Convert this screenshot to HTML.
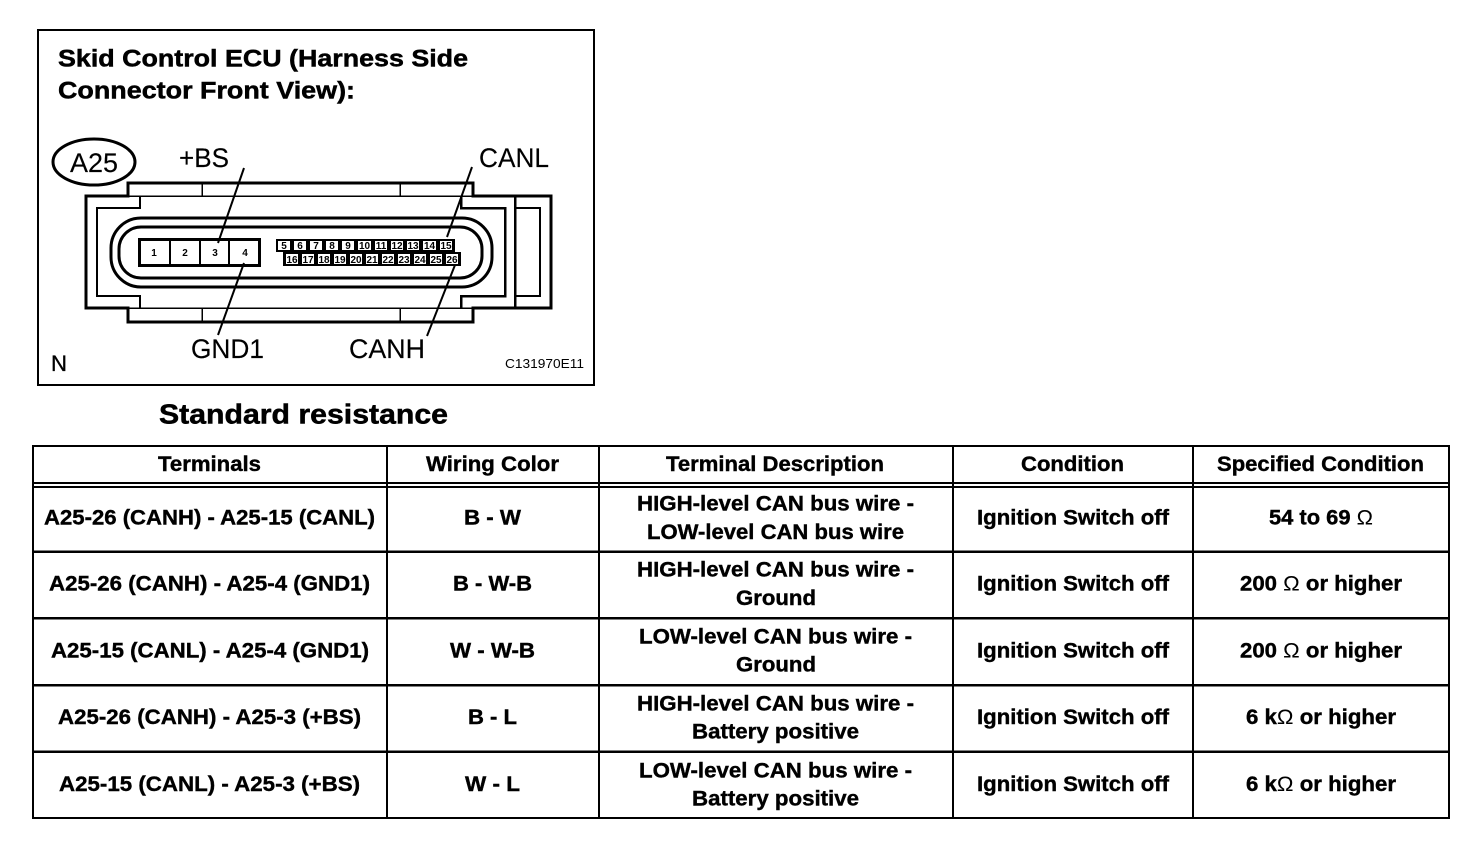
<!DOCTYPE html>
<html>
<head>
<meta charset="utf-8">
<style>
html,body{margin:0;padding:0;background:#fff;width:1472px;height:848px;overflow:hidden}
svg{display:block}
text{font-family:"Liberation Sans",sans-serif;fill:#000}
.b{font-weight:bold;font-size:21px;stroke:#000;stroke-width:.4px}
.h{font-weight:bold;font-size:24.5px;stroke:#000;stroke-width:.5px}
.l{font-size:27px;stroke:#000;stroke-width:.15px}
.n{font-weight:bold;font-size:10px;text-anchor:middle}
.o{font-weight:normal;stroke:none}
.c{shape-rendering:crispEdges}
</style>
</head>
<body>
<svg width="1472" height="848" viewBox="0 0 1472 848" xmlns="http://www.w3.org/2000/svg">
<rect width="1472" height="848" fill="#fff"/>
<!-- frame -->
<rect x="38" y="30" width="556" height="355" fill="none" stroke="#000" stroke-width="2" class="c"/>
<text class="h" x="58" y="66.500" textLength="410" lengthAdjust="spacingAndGlyphs">Skid Control ECU (Harness Side</text>
<text class="h" x="58" y="98.500" textLength="297" lengthAdjust="spacingAndGlyphs">Connector Front View):</text>
<!-- connector -->
<ellipse cx="94" cy="162" rx="41" ry="23" fill="#fff" stroke="#000" stroke-width="3"/>
<text class="l" x="70" y="172" textLength="48" lengthAdjust="spacingAndGlyphs">A25</text>
<text class="l" x="179" y="167" textLength="50" lengthAdjust="spacingAndGlyphs">+BS</text>
<text class="l" x="479" y="167" textLength="70" lengthAdjust="spacingAndGlyphs">CANL</text>
<text class="l" x="191" y="358" textLength="73" lengthAdjust="spacingAndGlyphs">GND1</text>
<text class="l" x="349" y="358" textLength="76" lengthAdjust="spacingAndGlyphs">CANH</text>
<text x="51" y="371" font-size="22" textLength="16" lengthAdjust="spacingAndGlyphs" stroke="#000" stroke-width=".3">N</text>
<text x="505" y="368" font-size="13" textLength="79" lengthAdjust="spacingAndGlyphs">C131970E11</text>

<g fill="none" stroke="#000" class="c">
<path d="M128 196V183H473V196H551V308H473V322H128V308H86V196Z" stroke-width="3"/>
<path d="M128 196H473M128 308H473M202 183V196M400 183V196M202 308V322M400 308V322" stroke-width="1.5"/>
<path d="M140 196V208H97V296H140V308" stroke-width="2"/>
<path d="M461 196V208H505V296H461V308" stroke-width="2.500"/>
<path d="M515 196V308" stroke-width="2.500"/>
<path d="M515 208H540V296H515" stroke-width="2"/>
</g>
<g fill="none" stroke="#000" stroke-width="3">
<rect x="111" y="218" width="381" height="69" rx="30" ry="30"/>
<rect x="119" y="227" width="363" height="51" rx="22" ry="22"/>
</g>
<!-- big terminals -->
<rect x="139.500" y="239.500" width="120" height="26" fill="#fff" stroke="#000" stroke-width="3" class="c"/>
<path d="M170 239V265M200 239V265M229 239V265" stroke="#000" stroke-width="2" class="c"/>
<g>
<text class="n" x="154" y="256">1</text>
<text class="n" x="185" y="256">2</text>
<text class="n" x="215" y="256">3</text>
<text class="n" x="245" y="256">4</text>
</g>
<!-- small terminals -->
<rect x="276" y="239" width="179" height="13" fill="#000" class="c"/>
<rect x="283" y="252" width="178" height="14" fill="#000" class="c"/>
<g fill="#fff" class="c">
<rect x="278" y="241" width="12" height="9"/><rect x="294" y="241" width="12" height="9"/><rect x="310" y="241" width="12" height="9"/><rect x="326" y="241" width="12" height="9"/><rect x="342" y="241" width="12" height="9"/><rect x="358" y="241" width="13" height="9"/><rect x="375" y="241" width="12" height="9"/><rect x="391" y="241" width="12" height="9"/><rect x="407" y="241" width="12" height="9"/><rect x="423" y="241" width="13" height="9"/><rect x="440" y="241" width="12" height="9"/>
<rect x="286" y="254" width="12" height="10"/><rect x="302" y="254" width="12" height="10"/><rect x="318" y="254" width="12" height="10"/><rect x="334" y="254" width="12" height="10"/><rect x="350" y="254" width="12" height="10"/><rect x="366" y="254" width="12" height="10"/><rect x="382" y="254" width="12" height="10"/><rect x="398" y="254" width="12" height="10"/><rect x="414" y="254" width="12" height="10"/><rect x="430" y="254" width="12" height="10"/><rect x="446" y="254" width="12" height="10"/>
</g>
<g>
<text class="n" x="284" y="249">5</text><text class="n" x="300" y="249">6</text><text class="n" x="316" y="249">7</text><text class="n" x="332" y="249">8</text><text class="n" x="348" y="249">9</text><text class="n" x="364.500" y="249">10</text><text class="n" x="381" y="249">11</text><text class="n" x="397" y="249">12</text><text class="n" x="413" y="249">13</text><text class="n" x="429.500" y="249">14</text><text class="n" x="446" y="249">15</text>
<text class="n" x="292" y="263">16</text><text class="n" x="308" y="263">17</text><text class="n" x="324" y="263">18</text><text class="n" x="340" y="263">19</text><text class="n" x="356" y="263">20</text><text class="n" x="372" y="263">21</text><text class="n" x="388" y="263">22</text><text class="n" x="404" y="263">23</text><text class="n" x="420" y="263">24</text><text class="n" x="436" y="263">25</text><text class="n" x="452" y="263">26</text>
</g>
<!-- leader lines -->
<g stroke="#000" stroke-width="2" fill="none">
<path d="M244 168L218 243"/>
<path d="M244 263L218 335"/>
<path d="M472 167L447 237"/>
<path d="M455 265L427 336"/>
</g>

<text x="159" y="423.500" font-weight="bold" font-size="28" stroke="#000" stroke-width=".5" textLength="289" lengthAdjust="spacingAndGlyphs">Standard resistance</text>

<!-- table -->
<g fill="none" stroke="#000" class="c">
<rect x="33" y="446" width="1416" height="372" stroke-width="2"/>
<path d="M33 483H1449M33 487H1449" stroke-width="2"/>
<path d="M33 551.500H1449M33 618H1449M33 685H1449M33 751.500H1449" stroke-width="2.500"/>
<path d="M387 446V818M599 446V818M953 446V818M1193 446V818" stroke-width="2"/>
</g>
<g>
<text class="b" x="158" y="471" textLength="103" lengthAdjust="spacingAndGlyphs">Terminals</text>
<text class="b" x="426" y="471" textLength="133" lengthAdjust="spacingAndGlyphs">Wiring Color</text>
<text class="b" x="666" y="471" textLength="218" lengthAdjust="spacingAndGlyphs">Terminal Description</text>
<text class="b" x="1021" y="471" textLength="103" lengthAdjust="spacingAndGlyphs">Condition</text>
<text class="b" x="1217" y="471" textLength="207" lengthAdjust="spacingAndGlyphs">Specified Condition</text>

<text class="b" x="44" y="524.500" textLength="331" lengthAdjust="spacingAndGlyphs">A25-26 (CANH) - A25-15 (CANL)</text>
<text class="b" x="464" y="524.500" textLength="57" lengthAdjust="spacingAndGlyphs">B - W</text>
<text class="b" x="637" y="510.500" textLength="277" lengthAdjust="spacingAndGlyphs">HIGH-level CAN bus wire -</text>
<text class="b" x="647" y="539" textLength="257" lengthAdjust="spacingAndGlyphs">LOW-level CAN bus wire</text>
<text class="b" x="977" y="524.500" textLength="192" lengthAdjust="spacingAndGlyphs">Ignition Switch off</text>
<text class="b" x="1269" y="524.500" textLength="104" lengthAdjust="spacingAndGlyphs">54 to 69 <tspan class="o">Ω</tspan></text>

<text class="b" x="49" y="590.500" textLength="321" lengthAdjust="spacingAndGlyphs">A25-26 (CANH) - A25-4 (GND1)</text>
<text class="b" x="453" y="590.500" textLength="79" lengthAdjust="spacingAndGlyphs">B - W-B</text>
<text class="b" x="637" y="576.500" textLength="277" lengthAdjust="spacingAndGlyphs">HIGH-level CAN bus wire -</text>
<text class="b" x="736" y="605" textLength="80" lengthAdjust="spacingAndGlyphs">Ground</text>
<text class="b" x="977" y="590.500" textLength="192" lengthAdjust="spacingAndGlyphs">Ignition Switch off</text>
<text class="b" x="1240" y="590.500" textLength="162" lengthAdjust="spacingAndGlyphs">200 <tspan class="o">Ω</tspan> or higher</text>

<text class="b" x="51" y="657.500" textLength="318" lengthAdjust="spacingAndGlyphs">A25-15 (CANL) - A25-4 (GND1)</text>
<text class="b" x="450" y="657.500" textLength="85" lengthAdjust="spacingAndGlyphs">W - W-B</text>
<text class="b" x="639" y="643.500" textLength="273" lengthAdjust="spacingAndGlyphs">LOW-level CAN bus wire -</text>
<text class="b" x="736" y="671.500" textLength="80" lengthAdjust="spacingAndGlyphs">Ground</text>
<text class="b" x="977" y="657.500" textLength="192" lengthAdjust="spacingAndGlyphs">Ignition Switch off</text>
<text class="b" x="1240" y="657.500" textLength="162" lengthAdjust="spacingAndGlyphs">200 <tspan class="o">Ω</tspan> or higher</text>

<text class="b" x="58" y="724" textLength="303" lengthAdjust="spacingAndGlyphs">A25-26 (CANH) - A25-3 (+BS)</text>
<text class="b" x="468" y="724" textLength="49" lengthAdjust="spacingAndGlyphs">B - L</text>
<text class="b" x="637" y="710.500" textLength="277" lengthAdjust="spacingAndGlyphs">HIGH-level CAN bus wire -</text>
<text class="b" x="692" y="738.500" textLength="167" lengthAdjust="spacingAndGlyphs">Battery positive</text>
<text class="b" x="977" y="724" textLength="192" lengthAdjust="spacingAndGlyphs">Ignition Switch off</text>
<text class="b" x="1246" y="724" textLength="150" lengthAdjust="spacingAndGlyphs">6 k<tspan class="o">Ω</tspan> or higher</text>

<text class="b" x="59" y="791" textLength="301" lengthAdjust="spacingAndGlyphs">A25-15 (CANL) - A25-3 (+BS)</text>
<text class="b" x="465" y="791" textLength="55" lengthAdjust="spacingAndGlyphs">W - L</text>
<text class="b" x="639" y="777.500" textLength="273" lengthAdjust="spacingAndGlyphs">LOW-level CAN bus wire -</text>
<text class="b" x="692" y="805.500" textLength="167" lengthAdjust="spacingAndGlyphs">Battery positive</text>
<text class="b" x="977" y="791" textLength="192" lengthAdjust="spacingAndGlyphs">Ignition Switch off</text>
<text class="b" x="1246" y="791" textLength="150" lengthAdjust="spacingAndGlyphs">6 k<tspan class="o">Ω</tspan> or higher</text>
</g>
</svg>
</body>
</html>
